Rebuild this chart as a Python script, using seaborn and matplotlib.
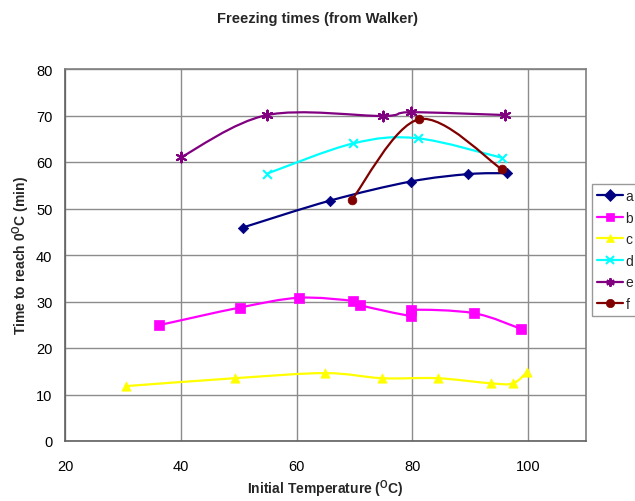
import numpy as np
import pandas as pd
import matplotlib
matplotlib.use("Agg")
import matplotlib.pyplot as plt
from matplotlib.path import Path
from matplotlib.patches import PathPatch
from matplotlib.lines import Line2D
import seaborn as sns

# ---- data ----
labels = ["a", "b", "c", "d", "e", "f"]
a_x = [50.7, 65.8, 79.7, 89.7, 96.4]
a_y = [45.9, 51.7, 55.8, 57.4, 57.6]
b_x = [36.2, 50.2, 60.4, 69.8, 71.0, 79.8, 79.8, 90.6, 98.8]
b_y = [24.9, 28.7, 30.8, 30.1, 29.2, 26.9, 28.2, 27.5, 24.1]
c_x = [30.5, 49.3, 64.9, 74.8, 84.4, 93.6, 97.4, 99.8]
c_y = [11.8, 13.5, 14.6, 13.5, 13.5, 12.4, 12.4, 14.8]
d_x = [54.9, 69.8, 80.9, 95.5]
d_y = [57.5, 64.0, 65.1, 60.9]
e_x = [40.0, 54.9, 74.9, 79.7, 96.0]
e_y = [61.0, 70.1, 69.9, 70.7, 70.1]
f_x = [69.5, 81.2, 95.5]
f_y = [51.8, 69.2, 58.4]

series_x = [a_x, b_x, c_x, d_x, e_x, f_x]
series_y = [a_y, b_y, c_y, d_y, e_y, f_y]
colors = ["#000080", "#FF00FF", "#FFFF00", "#00FFFF", "#800080", "#800000"]
markers = ["D", "s", "^", "x", (6, 2, 0), "o"]
msizes = [28, 45, 45, 40, 50, 40]

x_ticks = [20, 40, 60, 80, 100]
y_ticks = [0, 10, 20, 30, 40, 50, 60, 70, 80]

sns.set_theme(style="white")
plt.rcParams["font.family"] = ["Liberation Sans", "DejaVu Sans"]

fig = plt.figure(figsize=(6.35, 5.02), dpi=100)
ax = fig.add_axes([65 / 635, 1 - 442 / 502, 521 / 635, 372 / 502])


def smooth_path(xs, ys):
    pts = np.column_stack([xs, ys]).astype(float)
    n = len(pts)
    verts = [pts[0]]
    codes = [Path.MOVETO]
    for i in range(n - 1):
        p0 = pts[i - 1] if i > 0 else pts[i]
        p1 = pts[i]
        p2 = pts[i + 1]
        p3 = pts[i + 2] if i + 2 < n else pts[i + 1]
        c1 = p1 + (p2 - p0) / 6.0
        c2 = p2 - (p3 - p1) / 6.0
        verts += [c1, c2, p2]
        codes += [Path.CURVE4] * 3
    return Path(verts, codes)


handles = []
for lab, xs, ys, col, mk, ms in zip(labels, series_x, series_y, colors, markers, msizes):
    patch = PathPatch(smooth_path(xs, ys), facecolor="none", edgecolor=col,
                      lw=1.6, zorder=3)
    ax.add_patch(patch)
    df = pd.DataFrame({"x": xs, "y": ys})
    kw = dict(edgecolor=col, linewidth=1.5) if mk in ("x", (6, 2, 0)) else dict(edgecolor=col, linewidth=0.5)
    sns.scatterplot(data=df, x="x", y="y", ax=ax, color=col, marker=mk, s=ms,
                    zorder=4, legend=False, **kw)
    handles.append(Line2D([], [], color=col, lw=1.6, marker=mk,
                          markersize=6,
                          markeredgewidth=1.5 if mk in ("x", (6, 2, 0)) else 0.5,
                          markeredgecolor=col, markerfacecolor=col))

ax.set_xlim(20, 110)
ax.set_ylim(0, 80)
ax.set_xticks(x_ticks)
ax.set_yticks(y_ticks)
ax.grid(True, color="#8c8c8c", lw=1.0)
ax.set_axisbelow(True)
for s in ax.spines.values():
    s.set_color("#808080")
    s.set_linewidth(1.2)
ax.spines["left"].set_color("#606060")
ax.spines["bottom"].set_color("#606060")
ax.tick_params(axis="both", which="major", labelsize=10.5, colors="#000000",
               length=5, width=1, direction="out", pad=4)
ax.tick_params(axis="both", color="#606060")
ax.tick_params(axis="x", pad=8)
ax.set_xlabel("Initial Temperature ($^{\\mathregular{O}}$C)", fontsize=10,
              fontweight="bold", labelpad=3)
ax.set_ylabel("Time to reach 0$^{\\mathregular{O}}$C (min)", fontsize=10,
              fontweight="bold", labelpad=3)
fig.text(0.5, 1 - 19 / 502, "Freezing times (from Walker)", ha="center",
         va="center", fontsize=10.5, fontweight="bold")

leg = fig.legend(handles, labels, loc="upper left",
                 bbox_to_anchor=(592 / 635, 1 - 185 / 502),
                 frameon=True, fontsize=10, handlelength=1.9,
                 handletextpad=0.15, borderpad=0.35, labelspacing=0.55,
                 borderaxespad=0.0, fancybox=False)
leg.get_frame().set_edgecolor("#808080")
leg.get_frame().set_linewidth(1.0)

fig.savefig("out.png", dpi=100)
